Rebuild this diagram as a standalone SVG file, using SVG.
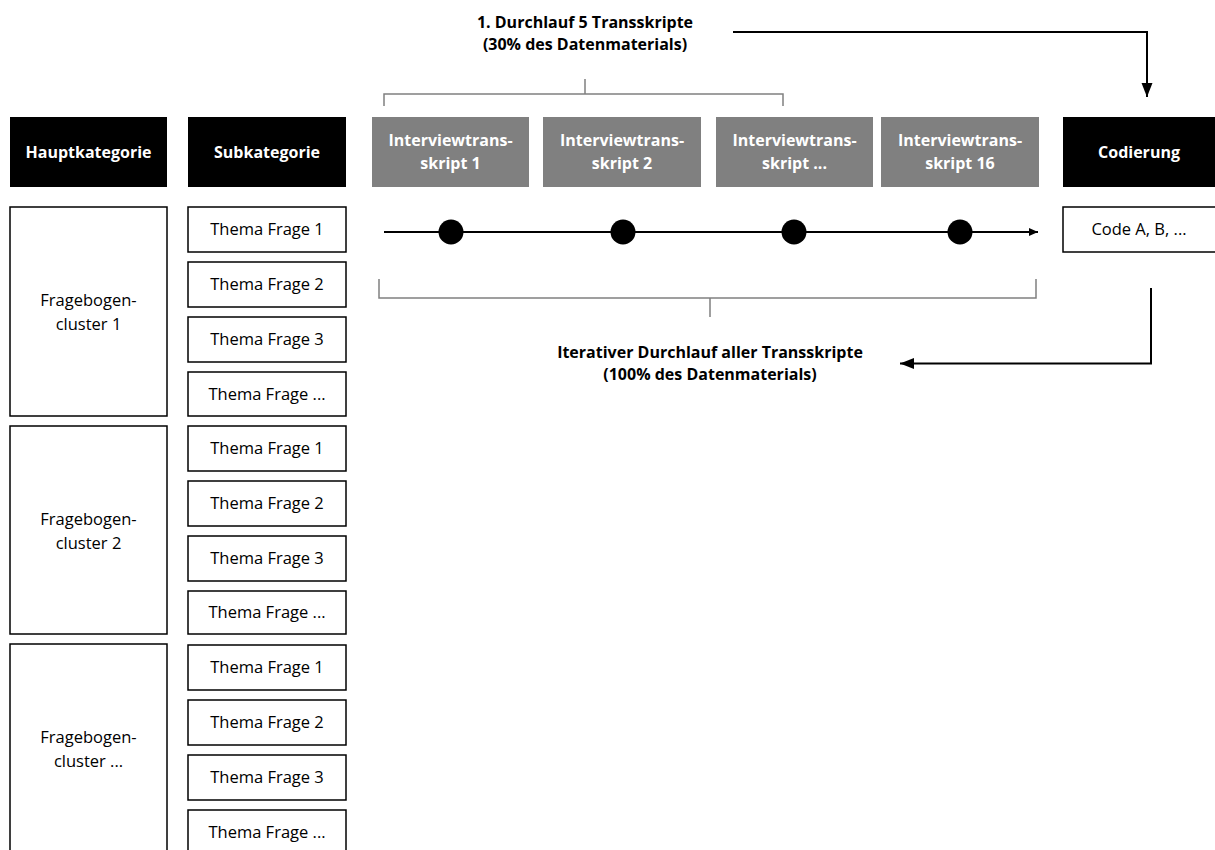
<svg xmlns="http://www.w3.org/2000/svg" width="1215" height="850" viewBox="0 0 1215 850">
<style>
text{font-family:"Open Sans","Noto Sans","Liberation Sans",sans-serif;font-size:16.5px;text-anchor:middle}
.b{font-weight:bold;font-size:16px}
.w{fill:#fff}
.blk{fill:#000}
.gr{fill:#808080}
.box{fill:#fff;stroke:#000;stroke-width:1.5}
.br{fill:none;stroke:#808080;stroke-width:1.5}
.ln{fill:none;stroke:#000;stroke-width:2}
</style>
<defs>
<marker id="big" markerWidth="14" markerHeight="18" refX="23" refY="9" viewBox="0 0 23 18" markerUnits="userSpaceOnUse" orient="auto"><path d="M0,0 L23,9 L0,18 z" fill="#000"/></marker>
<marker id="sm" markerWidth="9" markerHeight="8" refX="9" refY="4" viewBox="0 0 9 8" markerUnits="userSpaceOnUse" orient="auto"><path d="M0,0 L9,4 L0,8 z" fill="#000"/></marker>
</defs>
<g id="title-top"><text class="b" x="585" y="28">1. Durchlauf 5 Transskripte</text><text class="b" x="585" y="50">(30% des Datenmaterials)</text></g>
<g id="title-bottom"><text class="b" x="710" y="358">Iterativer Durchlauf aller Transskripte</text><text class="b" x="710" y="380">(100% des Datenmaterials)</text></g>
<g id="h-haupt"><rect class="blk" x="10" y="117" width="157" height="70"/><text class="b w" x="88.5" y="158">Hauptkategorie</text></g>
<g id="h-sub"><rect class="blk" x="188" y="117" width="158" height="70"/><text class="b w" x="267" y="158">Subkategorie</text></g>
<g id="t1"><rect class="gr" x="372" y="117" width="157" height="70"/><text class="b w" x="450.5" y="146">Interviewtrans-</text><text class="b w" x="450.5" y="169">skript 1</text></g>
<g id="t2"><rect class="gr" x="543" y="117" width="158" height="70"/><text class="b w" x="622" y="146">Interviewtrans-</text><text class="b w" x="622" y="169">skript 2</text></g>
<g id="t3"><rect class="gr" x="716" y="117" width="157" height="70"/><text class="b w" x="794.5" y="146">Interviewtrans-</text><text class="b w" x="794.5" y="169">skript ...</text></g>
<g id="t16"><rect class="gr" x="881" y="117" width="158" height="70"/><text class="b w" x="960" y="146">Interviewtrans-</text><text class="b w" x="960" y="169">skript 16</text></g>
<g id="h-cod"><rect class="blk" x="1063" y="117" width="152" height="70"/><text class="b w" x="1139" y="158">Codierung</text></g>
<g id="code"><rect class="box" x="1063" y="207" width="155" height="45"/><text x="1139" y="235">Code A, B, ...</text></g>
<g id="cluster1"><rect class="box" x="10" y="207" width="157" height="209"/><text x="88.5" y="306">Fragebogen-</text><text x="88.5" y="330">cluster 1</text></g>
<g id="cluster2"><rect class="box" x="10" y="426" width="157" height="208"/><text x="88.5" y="525">Fragebogen-</text><text x="88.5" y="549">cluster 2</text></g>
<g id="cluster3"><rect class="box" x="10" y="644" width="157" height="215"/><text x="88.5" y="743">Fragebogen-</text><text x="88.5" y="767">cluster ...</text></g>
<g id="s1-1"><rect class="box" x="188" y="207" width="158" height="45"/><text x="267" y="235">Thema Frage 1</text></g>
<g id="s1-2"><rect class="box" x="188" y="262" width="158" height="45"/><text x="267" y="290">Thema Frage 2</text></g>
<g id="s1-3"><rect class="box" x="188" y="317" width="158" height="45"/><text x="267" y="345">Thema Frage 3</text></g>
<g id="s1-4"><rect class="box" x="188" y="372" width="158" height="44"/><text x="267" y="400">Thema Frage ...</text></g>
<g id="s2-1"><rect class="box" x="188" y="426" width="158" height="45"/><text x="267" y="454">Thema Frage 1</text></g>
<g id="s2-2"><rect class="box" x="188" y="481" width="158" height="45"/><text x="267" y="509">Thema Frage 2</text></g>
<g id="s2-3"><rect class="box" x="188" y="536" width="158" height="45"/><text x="267" y="564">Thema Frage 3</text></g>
<g id="s2-4"><rect class="box" x="188" y="591" width="158" height="43"/><text x="267" y="618">Thema Frage ...</text></g>
<g id="s3-1"><rect class="box" x="188" y="645" width="158" height="45"/><text x="267" y="673">Thema Frage 1</text></g>
<g id="s3-2"><rect class="box" x="188" y="700" width="158" height="45"/><text x="267" y="728">Thema Frage 2</text></g>
<g id="s3-3"><rect class="box" x="188" y="755" width="158" height="45"/><text x="267" y="783">Thema Frage 3</text></g>
<g id="s3-4"><rect class="box" x="188" y="810" width="158" height="50"/><text x="267" y="838">Thema Frage ...</text></g>
<g id="connectors">
<path class="br" d="M384,106 V94 H783 V106 M585,94 V79"/>
<path class="br" d="M379,279 V298 H1036 V279 M710,298 V317"/>
<path class="ln" d="M733,32 H1147 V97" marker-end="url(#big)"/>
<path class="ln" d="M1151,288 V363.5 H900" marker-end="url(#big)"/>
<path class="ln" d="M384,232 H1038" marker-end="url(#sm)"/>
<circle cx="451" cy="232" r="12.5"/>
<circle cx="623" cy="232" r="12.5"/>
<circle cx="794" cy="232" r="12.5"/>
<circle cx="960" cy="232" r="12.5"/>
</g>
</svg>
